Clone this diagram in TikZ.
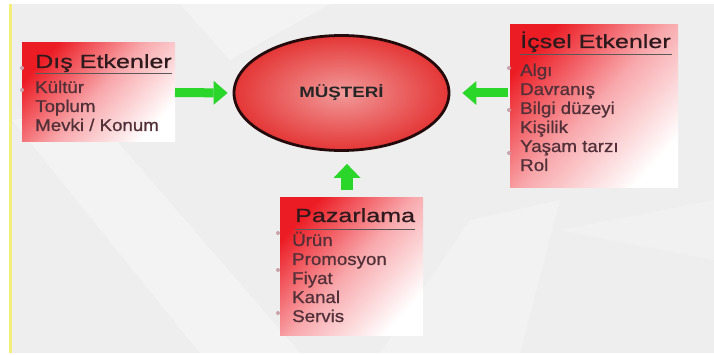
\documentclass[tikz,border=0pt]{standalone}
\usepackage{fontspec}
\setmainfont{Liberation Sans}
\newfontfamily\titlefont[FakeStretch=1.32,FakeBold=0.9]{Liberation Sans}
\newfontfamily\itemfont[FakeStretch=1.1,FakeBold=0.8]{Liberation Sans}
\newfontfamily\centfont[FakeStretch=1.25]{Liberation Sans}
\usetikzlibrary{arrows.meta,shapes.geometric,calc}
\definecolor{bggray}{HTML}{EEEEEE}
\definecolor{yline}{HTML}{F4EF7A}
\definecolor{boxred}{HTML}{EC1C24}
\definecolor{boxpink}{HTML}{F8A8AC}
\definecolor{titlec}{HTML}{2E1A1C}
\definecolor{itemc}{HTML}{523038}
\definecolor{greenc}{HTML}{2BD62B}
\definecolor{ellin}{HTML}{F29A9A}
\definecolor{ellout}{HTML}{E43636}
\definecolor{ellline}{HTML}{240A0A}
\definecolor{bullc}{HTML}{C9A2AA}
\begin{document}
\begin{tikzpicture}[x=1pt,y=-1pt,
  redbox/.style={rectangle, inner sep=0pt, outer sep=0pt, anchor=north west,
    top color=boxred, bottom color=white, middle color=boxpink, shading angle=48},
  boxtitle/.style={anchor=base west, inner sep=0pt, text=titlec,
    font=\titlefont\fontsize{19}{19}\selectfont},
  boxitem/.style={anchor=base west, inner sep=0pt, text=itemc,
    font=\itemfont\fontsize{17}{17}\selectfont},
  rule/.style={draw=gray!70!black, line width=0.9pt},
  bullet/.style={fill=bullc},
  garrow/.style={draw=greenc, line width=9pt,
    -{Triangle[width=24pt,length=14pt,line width=0pt]}}
]
\useasboundingbox (0,0) rectangle (714,355);
% background
\fill[white] (0,0) rectangle (714,355);
\fill[bggray] (12,4) rectangle (714,353);
\fill[white, opacity=0.35] (12,120) -- (90,110) -- (300,353) -- (200,353) -- cycle;
\fill[white, opacity=0.25] (380,353) -- (470,220) -- (560,200) -- (520,353) -- cycle;
\fill[white, opacity=0.3] (180,4) -- (330,4) -- (230,60) -- cycle;
\fill[white, opacity=0.2] (560,230) -- (714,200) -- (714,260) -- cycle;
\fill[yline] (9,4) rectangle (12,353);

% boxes
\node[redbox, minimum width=153pt, minimum height=99pt] (dis) at (22,43) {};
\node[redbox, minimum width=168pt, minimum height=163pt] (icsel) at (510,25) {};
\node[redbox, minimum width=143pt, minimum height=137pt] (paz) at (280,198) {};

% bullets
\fill[bullet] (22,68) circle (2pt);
\fill[bullet] (22,90) circle (2pt);
\fill[bullet] (509,68) circle (2pt);
\fill[bullet] (509,110) circle (2pt);
\fill[bullet] (509,153) circle (2pt);
\fill[bullet] (278,233) circle (2pt);
\fill[bullet] (278,270) circle (2pt);
\fill[bullet] (278,313) circle (2pt);

% Dis Etkenler
\node[boxtitle] (dist) at (35,68) {Dış Etkenler};
\draw[rule] (35,73) -- (172,73);
\node[boxitem] (d1) at (35,93) {Kültür};
\node[boxitem] (d2) at (35,112) {Toplum};
\node[boxitem] (d3) at (35,131) {Mevki / Konum};

% Icsel Etkenler
\node[boxtitle] (ict) at (520,48) {İçsel Etkenler};
\draw[rule] (520,54) -- (672,54);
\node[boxitem] (i1) at (520,76) {Algı};
\node[boxitem] (i2) at (520,95) {Davranış};
\node[boxitem] (i3) at (520,114) {Bilgi düzeyi};
\node[boxitem] (i4) at (520,133) {Kişilik};
\node[boxitem] (i5) at (520,152) {Yaşam tarzı};
\node[boxitem] (i6) at (520,171) {Rol};

% Pazarlama
\node[boxtitle] (pt) at (295,222) {Pazarlama};
\draw[rule] (295,229) -- (415,229);
\node[boxitem] (p1) at (292,246) {Ürün};
\node[boxitem] (p2) at (292,265) {Promosyon};
\node[boxitem] (p3) at (292,284) {Fiyat};
\node[boxitem] (p4) at (292,303) {Kanal};
\node[boxitem] (p5) at (292,322) {Servis};

% center ellipse
\node[ellipse, minimum width=215pt, minimum height=115pt, inner sep=0pt,
  draw=ellline, line width=2.8pt, inner color=ellin, outer color=ellout,
  text=black!85, font=\centfont\bfseries\fontsize{15}{15}\selectfont]
  (mus) at (341.5,93) {MÜŞTERİ};

% arrows
\draw[garrow, shorten >=5pt] (dis.east) -- (mus.west);
\draw[garrow, shorten <=2pt, shorten >=12pt] (icsel.west |- mus.east) -- (mus.east);
\draw[garrow, line width=12pt, -{Triangle[width=27pt,length=14pt,line width=0pt]},
  shorten <=8pt, shorten >=12pt]
  ([xshift=-4.5pt]paz.north) -- ([xshift=-4.5pt]paz.north |- mus.south);
\end{tikzpicture}
\end{document}
